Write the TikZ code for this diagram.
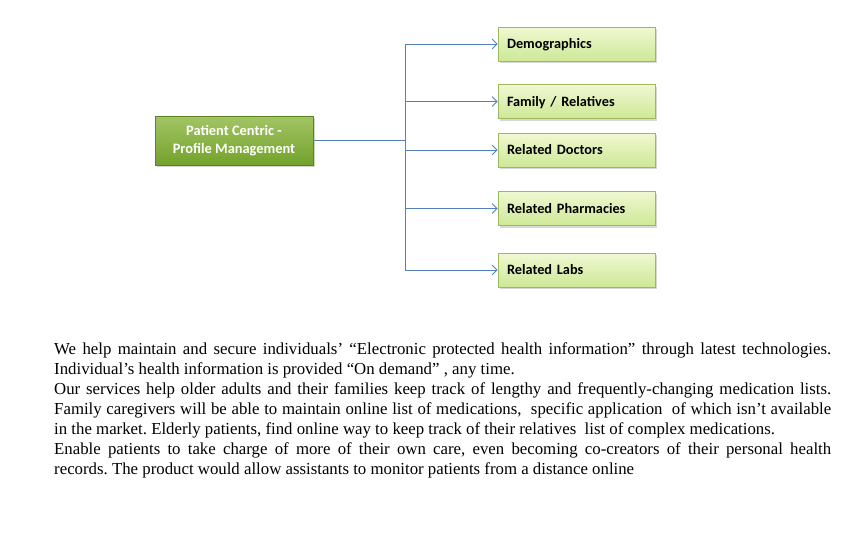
\documentclass[tikz,border=0pt]{standalone}
\usepackage{fontspec}
\setmainfont{Liberation Serif}
\newfontfamily\calib{Carlito}
\usetikzlibrary{arrows.meta,shadows}
\definecolor{mainTop}{HTML}{A3C564}
\definecolor{mainBot}{HTML}{73A22C}
\definecolor{subTop}{HTML}{F0F8D2}
\definecolor{subBot}{HTML}{CDE896}
\definecolor{subEdge}{HTML}{9BBB59}
\definecolor{conn}{HTML}{5581BA}
\begin{document}
\begin{tikzpicture}[x=1pt,y=-1pt,
  mainbox/.style={draw=mainBot!80!black, line width=0.4pt, top color=mainTop, bottom color=mainBot,
    minimum width=158pt, minimum height=49pt, inner sep=0pt, align=center,
    font=\calib\bfseries\fontsize{14.4}{18}\selectfont, text=white,
    drop shadow={shadow xshift=1.5pt, shadow yshift=-2pt, opacity=0.35}},
  subbox/.style={draw=subEdge, line width=0.6pt, top color=subTop, bottom color=subBot,
    minimum width=157pt, minimum height=34pt, inner xsep=9pt, text width=139pt, align=left,
    text height=10pt, text depth=1pt,
    font=\calib\bfseries\fontsize{14.3}{17}\selectfont, text=black,
    drop shadow={shadow xshift=1.5pt, shadow yshift=-2pt, opacity=0.3}},
  link/.style={draw=conn, line width=0.9pt, -{Straight Barb[length=5pt,width=10pt]}}
]
\useasboundingbox (0,0) rectangle (859,550);
\fill[white] (0,0) rectangle (859,550);

\node[mainbox] (main) at (234,140.5) {Patient Centric -\\Profile Management};

\node[subbox] (demo) at (576.5,44) {Demographics};
\node[subbox] (fam)  at (576.5,101.5) {Family / Relatives};
\node[subbox] (doc)  at (576.5,150) {Related Doctors};
\node[subbox] (pha)  at (576.5,208.5) {Related Pharmacies};
\node[subbox] (lab)  at (576.5,270) {Related Labs};

\coordinate (hub) at (405,140);
\draw[draw=conn, line width=0.9pt] (main.east |- hub) -- (hub);
\draw[draw=conn, line width=0.9pt] (hub |- demo.west) -- (hub |- lab.west);
\foreach \n in {demo,fam,doc,pha,lab}
  \draw[link] (hub |- \n.west) -- (\n.west);

\node[anchor=north west, inner sep=0pt, text width=777pt, align=justify,
  font=\fontsize{16.8}{20.1}\selectfont] (para) at (54,342) {\frenchspacing
We help maintain and secure individuals’ “Electronic protected health information” through latest technologies.\linebreak
Individual’s health information is provided “On demand” , any time.\par
Our services help older adults and their families keep track of lengthy and frequently-changing medication lists.\linebreak
Family caregivers will be able to maintain online list of medications,\ \ specific application\ \ of which isn’t available\linebreak
in the market. Elderly patients, find online way to keep track of their relatives\ \ list of complex medications.\par
Enable patients to take charge of more of their own care, even becoming co-creators of their personal health\linebreak
records. The product would allow assistants to monitor patients from a distance online};
\end{tikzpicture}
\end{document}
